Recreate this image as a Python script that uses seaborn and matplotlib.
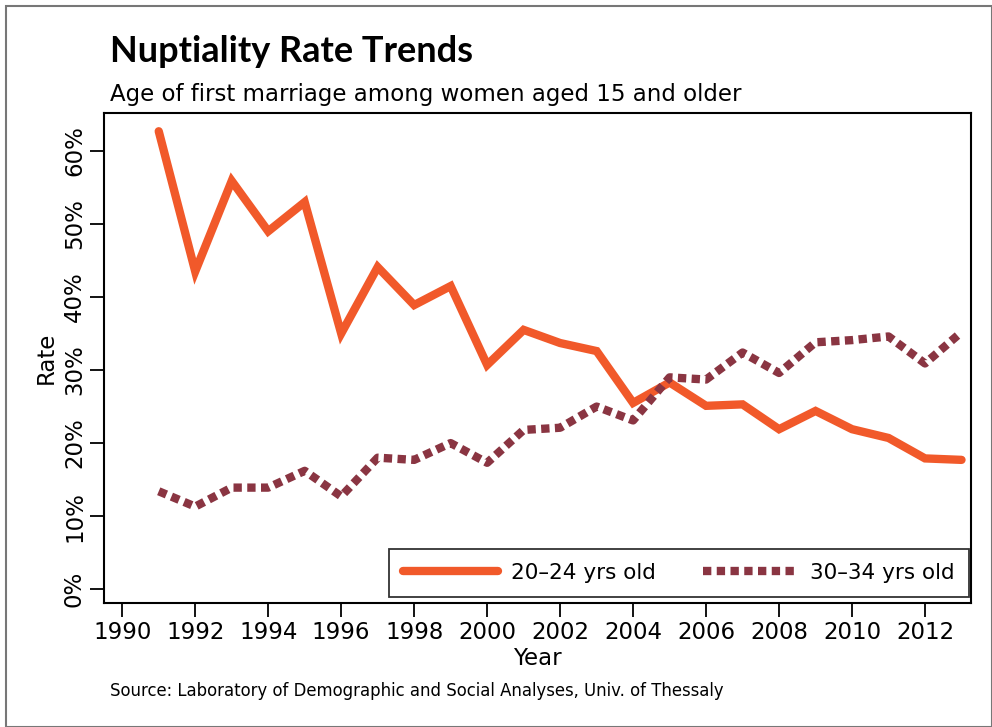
import seaborn as sns
import matplotlib.pyplot as plt
import matplotlib.ticker as mticker
from matplotlib.patches import Rectangle
import pandas as pd

# Data
years = list(range(1991, 2014))
rate_20_24 = [62.7, 43.5, 55.9, 49.0, 53.0, 35.0, 44.1, 38.9, 41.5, 30.7, 35.5, 33.7,
              32.6, 25.5, 28.3, 25.1, 25.3, 21.9, 24.4, 21.9, 20.7, 17.9, 17.7]
rate_30_34 = [13.4, 11.3, 13.9, 13.9, 16.2, 12.7, 18.0, 17.7, 20.0, 17.3, 21.8, 22.1,
              25.0, 23.1, 29.0, 28.7, 32.4, 29.6, 33.8, 34.1, 34.6, 30.9, 35.2]
labels = ['20–24 yrs old', '30–34 yrs old']
xticks = list(range(1990, 2013, 2))
yticks = [0, 10, 20, 30, 40, 50, 60]

df = pd.DataFrame({'year': years, labels[0]: rate_20_24, labels[1]: rate_30_34})

sns.set_style('white', rc={'text.color': 'black', 'axes.labelcolor': 'black',
                           'xtick.color': 'black', 'ytick.color': 'black'})
plt.rcParams['font.family'] = ['DejaVu Sans']

fig = plt.figure(figsize=(9.92, 7.27), dpi=100)
ax = fig.add_axes([104/992, 1-603/727, (971-104)/992, (603-113)/727])

sns.lineplot(data=df, x='year', y=labels[0], ax=ax, color='#F1592A', linewidth=6,
             label=labels[0], solid_joinstyle='miter')
sns.lineplot(data=df, x='year', y=labels[1], ax=ax, color='#8A3542', linewidth=6,
             linestyle=(0, (1, 0.65)), label=labels[1])

ax.set_xlim(1989.5, 2013.26)
ax.set_ylim(-1.9, 65.2)
ax.set_xticks(xticks)
ax.set_yticks(yticks)
ax.yaxis.set_major_formatter(mticker.FuncFormatter(lambda v, p: f'{v:.0f}%'))
for lab in ax.get_yticklabels():
    lab.set_rotation(90)
    lab.set_va('center')
ax.tick_params(axis='both', labelsize=16.5, length=10, width=1.3, direction='out',
               left=True, bottom=True, color='black', pad=3)
for s in ax.spines.values():
    s.set_color('black')
    s.set_linewidth(1.5)

ax.set_xlabel('Year', fontsize=16.5, labelpad=2)
ax.set_ylabel('Rate', fontsize=16.5, labelpad=4)

leg = ax.legend(loc='lower right', bbox_to_anchor=(969/992, 1-597/727),
                bbox_transform=fig.transFigure, borderaxespad=0, ncol=2,
                fontsize=15.5, handlelength=4.4, columnspacing=2.2, fancybox=False,
                frameon=True, borderpad=0.65, handletextpad=0.6)
leg.get_frame().set_edgecolor('black')
leg.get_frame().set_linewidth(1.3)

fig.text(110/992, 1-62/727, 'Nuptiality Rate Trends', fontsize=26, fontweight='bold',
         family=['Lato', 'DejaVu Sans'], va='baseline')
fig.text(110/992, 1-101/727, 'Age of first marriage among women aged 15 and older',
         fontsize=16.5, va='baseline')
fig.text(110/992, 1-696/727, 'Source: Laboratory of Demographic and Social Analyses, Univ. of Thessaly',
         fontsize=11.9, va='baseline')

fig.patches.append(Rectangle((6/992, 0), 1-6/992, 1-6/727, transform=fig.transFigure,
                             fill=False, edgecolor='#777777', linewidth=1.5))

fig.savefig('out.png', dpi=100)
